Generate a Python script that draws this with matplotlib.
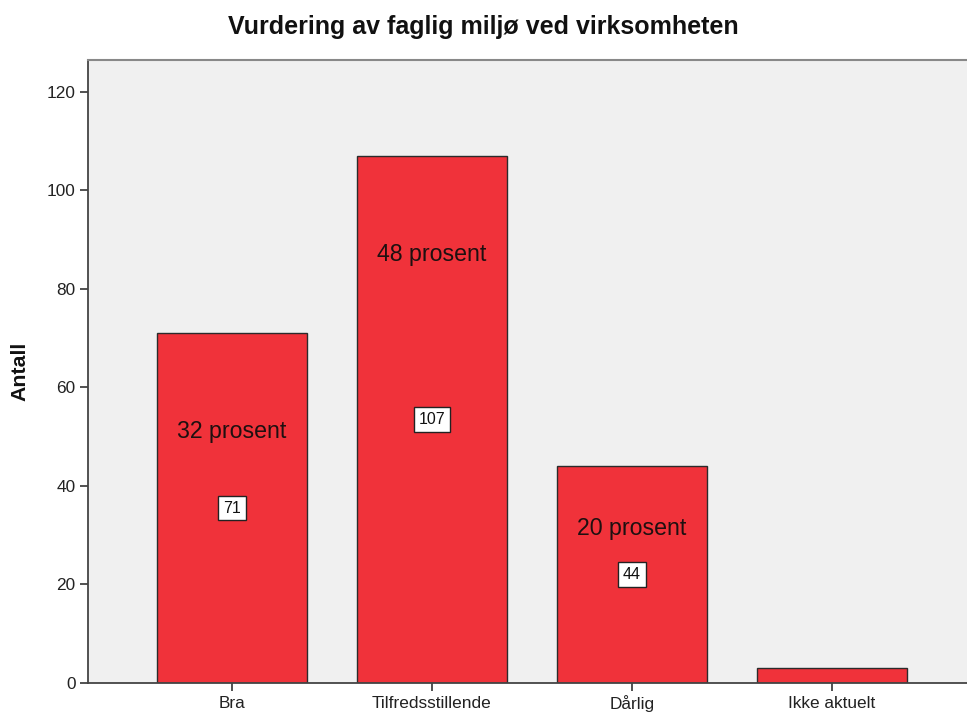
import matplotlib
matplotlib.use("Agg")
import matplotlib.pyplot as plt
import numpy as np

# Data
categories = ["Bra", "Tilfredsstillende", "Dårlig", "Ikke aktuelt"]
counts = [71, 107, 44, 3]
pct_labels = ["32 prosent", "48 prosent", "20 prosent", None]
pct_label_y = [51, 87, 31.4, None]
yticks = [0, 20, 40, 60, 80, 100, 120]

plt.rcParams["font.family"] = ["Liberation Sans", "DejaVu Sans"]

fig = plt.figure(figsize=(9.67, 7.14), dpi=100)
ax = fig.add_axes([88 / 967, 31 / 714, 1 - 88 / 967, (683 - 60) / 714])
ax.set_facecolor("#f0f0f0")

x = np.arange(len(categories))
ax.bar(x, counts, width=0.75, color="#f0323a", edgecolor="#2b2b2b", linewidth=1.0, zorder=2)

for xi, c, lab, ly in zip(x, counts, pct_labels, pct_label_y):
    if lab is None:
        continue
    ax.text(xi, ly, lab, ha="center", va="center", fontsize=16.7, color="#1e1010", zorder=3)
    ax.text(xi, c / 2, str(c), ha="center", va="center", fontsize=11.5, color="#111111", zorder=3,
            bbox=dict(boxstyle="square,pad=0.3", facecolor="white", edgecolor="#222222", linewidth=1.0))

ax.set_xlim(-0.72, 3.675)
ax.set_ylim(0, 126.4)
ax.set_xticks(x)
ax.set_xticklabels(categories)
ax.set_yticks(yticks)
ax.tick_params(axis="both", direction="out", length=6, width=1.2, colors="#333333",
               labelsize=12.4, labelcolor="#222222", pad=3)

for side in ("left", "bottom"):
    ax.spines[side].set_color("#444444")
    ax.spines[side].set_linewidth(1.3)
ax.spines["top"].set_color("#888888")
ax.spines["top"].set_linewidth(1.5)
ax.spines["right"].set_visible(False)

ax.set_ylabel("Antall", fontsize=15.3, fontweight="bold", color="#111111", labelpad=12)
fig.text(0.5, 1 - 27 / 714, "Vurdering av faglig miljø ved virksomheten", ha="center", va="center",
         fontsize=18, fontweight="bold", color="#111111")

fig.savefig("out.png", dpi=100)
